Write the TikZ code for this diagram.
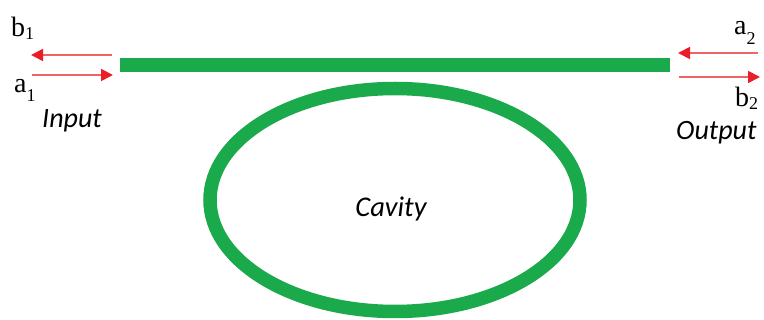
\documentclass[tikz,border=0pt]{standalone}
\usepackage{fontspec}
\setmainfont{Liberation Serif}
\newfontfamily\labelfont{Carlito}
\usetikzlibrary{arrows.meta,shapes.geometric}

\definecolor{guide}{RGB}{26,170,76}
\definecolor{beamline}{RGB}{240,100,100}
\definecolor{beamhead}{RGB}{232,30,40}

\tikzset{
  waveguide/.style={draw=guide, line width=13.5pt},
  beam/.style={draw=beamline, line width=1.8pt,
    -{Triangle[length=12pt, width=12pt, color=beamhead]}},
  portlabel/.style={font=\labelfont\itshape\fontsize{28}{28}\selectfont,
    inner sep=0pt, anchor=base west},
  wavelabel/.style={font=\fontsize{28}{28}\selectfont,
    inner sep=0pt, anchor=base west},
}
\newcommand{\subsc}[2]{\raisebox{-#1pt}{\fontsize{18}{18}\selectfont #2}}

\begin{document}
\begin{tikzpicture}[x=1pt, y=-1pt]
  \useasboundingbox (0,0) rectangle (764,320);

  % bus waveguide
  \coordinate (busL) at (120,65);
  \coordinate (busR) at (670,65);
  \draw[waveguide, line cap=butt] (busL) -- (busR);

  % ring cavity
  \node[ellipse, waveguide, minimum width=370pt, minimum height=223pt,
        inner sep=0pt] (cavity) at (395,200) {};
  \node[font=\labelfont\itshape\fontsize{28.5}{28.5}\selectfont,
        inner sep=0pt, anchor=base] (cavitytext) at (391,217) {Cavity};

  % input port beams
  \coordinate (inTopA) at (112,55);
  \coordinate (inTopB) at (31,55);
  \coordinate (inBotA) at (32,75);
  \coordinate (inBotB) at (113,75);
  \draw[beam] (inTopA) -- (inTopB);
  \draw[beam] (inBotA) -- (inBotB);

  % output port beams
  \coordinate (outTopA) at (758,53);
  \coordinate (outTopB) at (678,53);
  \coordinate (outBotA) at (679,77);
  \coordinate (outBotB) at (760,77);
  \draw[beam] (outTopA) -- (outTopB);
  \draw[beam] (outBotA) -- (outBotB);

  % wave amplitudes
  \node[wavelabel] (b1) at (11,37) {b\subsc{3}{1}};
  \node[wavelabel] (a1) at (14,93) {a\subsc{9}{1}};
  \node[wavelabel] (a2) at (734,35) {a\subsc{10}{2}};
  \node[wavelabel] (b2) at (735,107) {b\subsc{3}{2}};

  % port names
  \node[portlabel] (input) at (42,128) {Input};
  \node[portlabel] (output) at (676,140) {Output};
\end{tikzpicture}
\end{document}
